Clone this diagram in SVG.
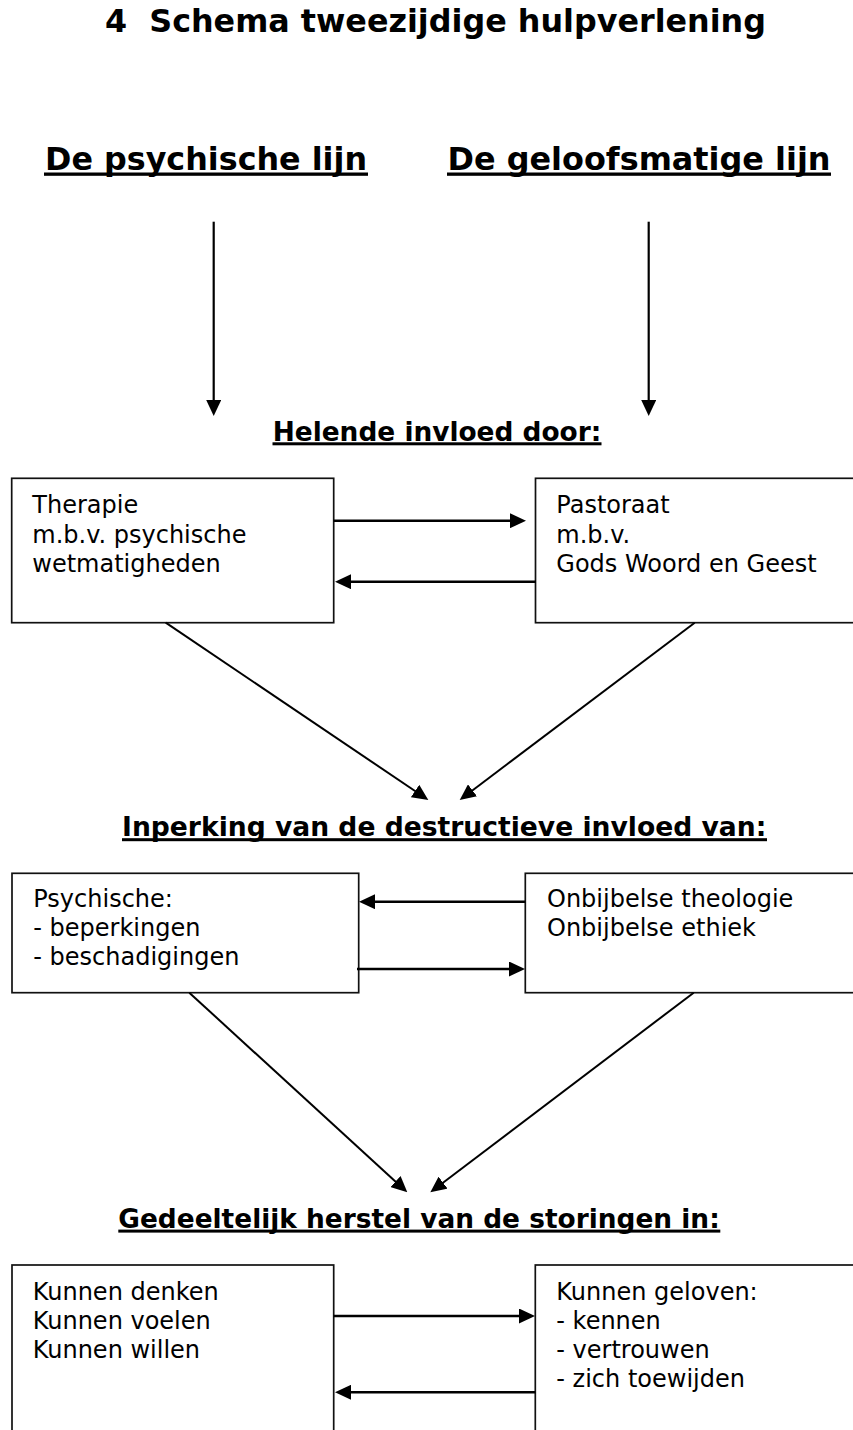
<svg xmlns="http://www.w3.org/2000/svg" width="853" height="1430" viewBox="0 0 853 1430">
<style>
.bg{fill:#ffffff}
.box{fill:#ffffff;stroke:#111111;stroke-width:1.7}
.t{font-family:"DejaVu Sans","Verdana",sans-serif;font-size:24px;fill:#000000}
.h1{font-family:"DejaVu Sans","Verdana",sans-serif;font-size:32px;font-weight:bold;fill:#000000}
.h2{font-family:"DejaVu Sans","Verdana",sans-serif;font-size:26.67px;font-weight:bold;fill:#000000}
.ul{fill:#000000}
.c{stroke:#000000;fill:none}
.v{stroke-width:2.2}
.h{stroke-width:2.6}
.d{stroke-width:2}
</style>
<defs>
<marker id="ah" markerUnits="userSpaceOnUse" markerWidth="16" markerHeight="15" refX="8" refY="7.5" orient="auto">
<path d="M0,0 L16,7.5 L0,15 z" fill="#000000"/>
</marker>
</defs>
<rect class="bg" x="0" y="0" width="853" height="1430"/>

<g id="title">
<text class="h1" x="105" y="32" textLength="661" lengthAdjust="spacingAndGlyphs">4&#160; Schema tweezijdige hulpverlening</text>
</g>

<g id="heading-psychisch">
<text class="h1" x="45" y="170" textLength="322" lengthAdjust="spacingAndGlyphs">De psychische lijn</text>
<rect class="ul" x="44" y="172.5" width="324" height="3.3"/>
</g>
<g id="heading-geloof">
<text class="h1" x="447.5" y="170" textLength="383" lengthAdjust="spacingAndGlyphs">De geloofsmatige lijn</text>
<rect class="ul" x="447" y="172.5" width="384" height="3.3"/>
</g>

<g id="heading-helende">
<text class="h2" x="272.7" y="440.5" textLength="328.6" lengthAdjust="spacingAndGlyphs">Helende invloed door:</text>
<rect class="ul" x="272.5" y="442.3" width="329" height="3"/>
</g>

<g id="box-therapie">
<rect class="box" x="11.7" y="478.3" width="322" height="144.4"/>
<text class="t" x="32.3" y="513.3">Therapie</text>
<text class="t" x="32.3" y="542.6">m.b.v. psychische</text>
<text class="t" x="32.3" y="571.8">wetmatigheden</text>
</g>

<g id="box-pastoraat">
<rect class="box" x="535.5" y="478.3" width="370" height="144.4"/>
<text class="t" x="556.3" y="513.3">Pastoraat</text>
<text class="t" x="556.3" y="542.6">m.b.v.</text>
<text class="t" x="556.3" y="571.8">Gods Woord en Geest</text>
</g>

<g id="heading-inperking">
<text class="h2" x="122" y="836.3" textLength="644.3" lengthAdjust="spacingAndGlyphs">Inperking van de destructieve invloed van:</text>
<rect class="ul" x="122" y="838.2" width="645" height="3"/>
</g>

<g id="box-psychische">
<rect class="box" x="12" y="873.3" width="346.7" height="119.4"/>
<text class="t" x="33.3" y="906.7">Psychische:</text>
<text class="t" x="33.3" y="935.9">- beperkingen</text>
<text class="t" x="33.3" y="965">- beschadigingen</text>
</g>

<g id="box-onbijbels">
<rect class="box" x="525.3" y="873.3" width="380" height="119.4"/>
<text class="t" x="547" y="907.3">Onbijbelse theologie</text>
<text class="t" x="547" y="936.4">Onbijbelse ethiek</text>
</g>

<g id="heading-herstel">
<text class="h2" x="118.3" y="1227.6" textLength="601.4" lengthAdjust="spacingAndGlyphs">Gedeeltelijk herstel van de storingen in:</text>
<rect class="ul" x="118.3" y="1229.6" width="602" height="3"/>
</g>

<g id="box-kunnen">
<rect class="box" x="12" y="1265" width="321.7" height="200"/>
<text class="t" x="32.7" y="1300">Kunnen denken</text>
<text class="t" x="32.7" y="1329.2">Kunnen voelen</text>
<text class="t" x="32.7" y="1358.3">Kunnen willen</text>
</g>

<g id="box-geloven">
<rect class="box" x="535.3" y="1265" width="370" height="200"/>
<text class="t" x="556.3" y="1300">Kunnen geloven:</text>
<text class="t" x="556.3" y="1329.2">- kennen</text>
<text class="t" x="556.3" y="1358.3">- vertrouwen</text>
<text class="t" x="556.3" y="1387">- zich toewijden</text>
</g>

<g id="connectors">
<line class="c v" x1="213.7" y1="221.7" x2="213.7" y2="408" marker-end="url(#ah)"/>
<line class="c v" x1="648.7" y1="221.7" x2="648.7" y2="408" marker-end="url(#ah)"/>
<line class="c h" x1="333.7" y1="520.7" x2="518" y2="520.7" marker-end="url(#ah)"/>
<line class="c h" x1="536" y1="581.7" x2="343" y2="581.7" marker-end="url(#ah)"/>
<line class="c d" x1="165.7" y1="622.7" x2="421.7" y2="795.5" marker-end="url(#ah)"/>
<line class="c d" x1="694.7" y1="622.7" x2="466.1" y2="795.2" marker-end="url(#ah)"/>
<line class="c h" x1="525.3" y1="901.7" x2="367" y2="901.7" marker-end="url(#ah)"/>
<line class="c h" x1="357" y1="969" x2="517" y2="969" marker-end="url(#ah)"/>
<line class="c d" x1="189.3" y1="992.7" x2="401.4" y2="1186.9" marker-end="url(#ah)"/>
<line class="c d" x1="693.7" y1="992.7" x2="436.7" y2="1187.5" marker-end="url(#ah)"/>
<line class="c h" x1="333.7" y1="1316" x2="527" y2="1316" marker-end="url(#ah)"/>
<line class="c h" x1="535.3" y1="1392.3" x2="343" y2="1392.3" marker-end="url(#ah)"/>
</g>
</svg>
